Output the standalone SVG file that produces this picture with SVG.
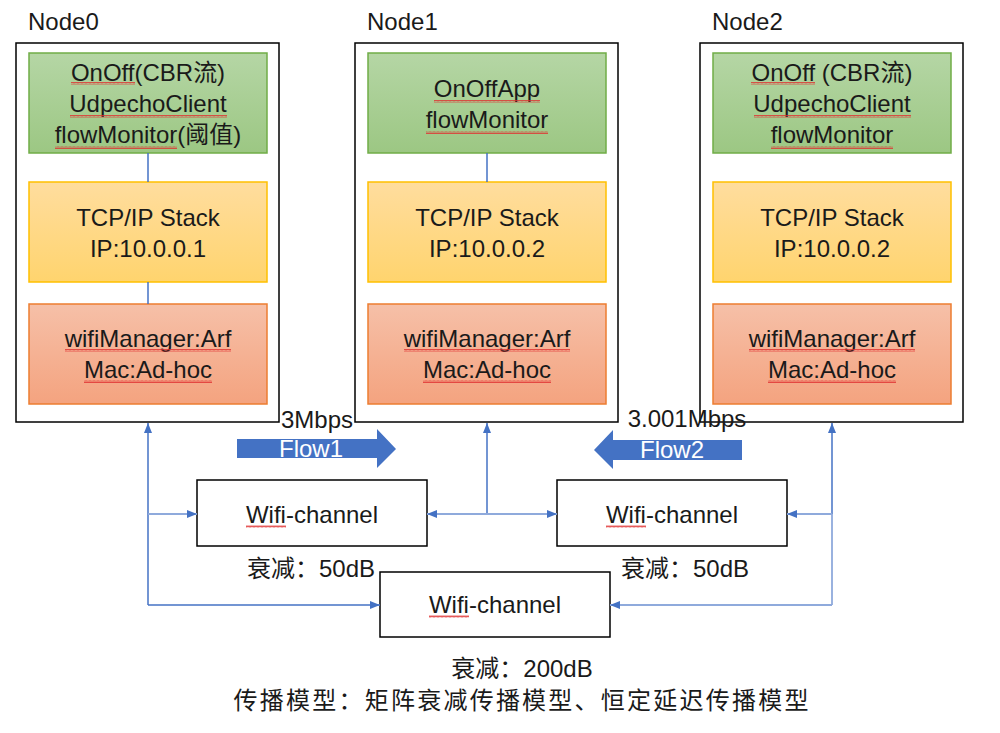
<svg xmlns="http://www.w3.org/2000/svg" width="1000" height="733" viewBox="0 0 1000 733">
<defs>
<linearGradient id="gGreen" x1="0" y1="0" x2="0" y2="1"><stop offset="0" stop-color="#B5D6A5"/><stop offset="1" stop-color="#9CC783"/></linearGradient>
<linearGradient id="gYellow" x1="0" y1="0" x2="0" y2="1"><stop offset="0" stop-color="#FFDD9E"/><stop offset="1" stop-color="#FFD46E"/></linearGradient>
<linearGradient id="gOrange" x1="0" y1="0" x2="0" y2="1"><stop offset="0" stop-color="#F6C0A8"/><stop offset="1" stop-color="#F4A37F"/></linearGradient>
<marker id="ah" markerUnits="userSpaceOnUse" markerWidth="10" markerHeight="10" viewBox="0 0 10 10" refX="10" refY="5" orient="auto"><path d="M0,1 L10,5 L0,9 Z" fill="#4472C4"/></marker>
<pattern id="wave" patternUnits="userSpaceOnUse" width="4" height="3"><path d="M0,2.5 L1,0.5 L2,2.5 L3,0.5 L4,2.5" fill="none" stroke="#E03030" stroke-width="0.8"/></pattern>
</defs>
<style>
text{font-family:"Liberation Sans","Noto Sans CJK SC",sans-serif;font-size:24px;fill:#1a1a1a;text-anchor:middle}
.lbl{text-anchor:start}
.outer{fill:#fff;stroke:#000;stroke-width:1.5}
.green{fill:url(#gGreen);stroke:#70AD47;stroke-width:1.5}
.yellow{fill:url(#gYellow);stroke:#FFC000;stroke-width:1.5}
.orange{fill:url(#gOrange);stroke:#ED7D31;stroke-width:1.5}
.ch{fill:#fff;stroke:#000;stroke-width:1.5}
.ln{fill:none;stroke:#4472C4;stroke-width:1.5}
.ln2{fill:none;stroke:#8FAADC;stroke-width:1.8}
.flow{fill:#4472C4}
.ft{fill:#fff}
.sq{fill:url(#wave)}
</style>

<g id="node0">
<text class="lbl" x="28" y="30">Node0</text>
<rect class="outer" x="16" y="43" width="263" height="379"/>
<rect class="green" x="29" y="53" width="238" height="100"/>
<text x="148" y="81">OnOff(CBR流)</text>
<text x="148" y="112">UdpechoClient</text>
<text x="148" y="143">flowMonitor(阈值)</text>
<rect class="yellow" x="29" y="182" width="238" height="100"/>
<text x="148" y="226">TCP/IP Stack</text>
<text x="148" y="257">IP:10.0.0.1</text>
<rect class="orange" x="29" y="304" width="238" height="100"/>
<text x="148" y="347">wifiManager:Arf</text>
<text x="148" y="378">Mac:Ad-hoc</text>
<rect class="sq" x="71" y="82" width="64" height="3"/>
<rect class="sq" x="70" y="115" width="157" height="3"/>
<rect class="sq" x="55" y="146" width="122" height="3"/>
<rect class="sq" x="65" y="349" width="166" height="3"/>
<rect class="sq" x="84" y="380" width="128" height="3"/>
<line class="ln" x1="148" y1="153" x2="148" y2="182"/>
<line class="ln" x1="148" y1="282" x2="148" y2="304"/>
</g>

<g id="node1">
<text class="lbl" x="367" y="30">Node1</text>
<rect class="outer" x="355" y="43" width="263" height="379"/>
<rect class="green" x="368" y="53" width="238" height="100"/>
<text x="487" y="97">OnOffApp</text>
<text x="487" y="128">flowMonitor</text>
<rect class="yellow" x="368" y="182" width="238" height="100"/>
<text x="487" y="226">TCP/IP Stack</text>
<text x="487" y="257">IP:10.0.0.2</text>
<rect class="orange" x="368" y="304" width="238" height="100"/>
<text x="487" y="347">wifiManager:Arf</text>
<text x="487" y="378">Mac:Ad-hoc</text>
<rect class="sq" x="434" y="100" width="106" height="3"/>
<rect class="sq" x="426" y="131" width="122" height="3"/>
<rect class="sq" x="404" y="349" width="166" height="3"/>
<rect class="sq" x="423" y="380" width="128" height="3"/>
<line class="ln" x1="487" y1="153" x2="487" y2="182"/>
</g>

<g id="node2">
<text class="lbl" x="712" y="30">Node2</text>
<rect class="outer" x="700" y="43" width="263" height="379"/>
<rect class="green" x="713" y="53" width="238" height="100"/>
<text x="832" y="81">OnOff (CBR流)</text>
<text x="832" y="112">UdpechoClient</text>
<text x="832" y="143">flowMonitor</text>
<rect class="yellow" x="713" y="182" width="238" height="100"/>
<text x="832" y="226">TCP/IP Stack</text>
<text x="832" y="257">IP:10.0.0.2</text>
<rect class="orange" x="713" y="304" width="238" height="100"/>
<text x="832" y="347">wifiManager:Arf</text>
<text x="832" y="378">Mac:Ad-hoc</text>
<rect class="sq" x="751" y="82" width="64" height="3"/>
<rect class="sq" x="754" y="115" width="157" height="3"/>
<rect class="sq" x="771" y="146" width="122" height="3"/>
<rect class="sq" x="749" y="349" width="166" height="3"/>
<rect class="sq" x="768" y="380" width="128" height="3"/>
</g>

<g id="channel1">
<rect class="ch" x="197" y="480" width="230" height="66"/>
<text x="312" y="523">Wifi-channel</text>
<rect class="sq" x="246" y="525" width="40" height="3"/>
<text x="311" y="577">衰减：50dB</text>
</g>

<g id="channel2">
<rect class="ch" x="557" y="480" width="230" height="66"/>
<text x="672" y="523">Wifi-channel</text>
<rect class="sq" x="606" y="525" width="40" height="3"/>
<text x="685" y="577">衰减：50dB</text>
</g>

<g id="channel3">
<rect class="ch" x="380" y="572" width="230" height="65"/>
<text x="495" y="613">Wifi-channel</text>
<rect class="sq" x="429" y="615" width="40" height="3"/>
<text x="522" y="677">衰减：200dB</text>
<text x="521" y="709" textLength="575" lengthAdjust="spacing">传播模型：矩阵衰减传播模型、恒定延迟传播模型</text>
</g>

<g id="flow1">
<path class="flow" d="M237,439 H377 V429 L396,449 L377,468 V458 H237 Z"/>
<text class="ft" x="311" y="457">Flow1</text>
<text x="317" y="428">3Mbps</text>
</g>

<g id="flow2">
<path class="flow" d="M742,440 H613 V430 L594,450 L613,469 V460 H742 Z"/>
<text class="ft" x="672" y="458">Flow2</text>
<text x="687" y="427">3.001Mbps</text>
</g>

<g id="connectors">
<path class="ln" d="M148,605 V423" marker-end="url(#ah)"/>
<path class="ln2" d="M148,514 H197" marker-end="url(#ah)"/>
<path class="ln" d="M148,605 H380" marker-end="url(#ah)"/>
<path class="ln" d="M487,514 V423" marker-end="url(#ah)"/>
<path class="ln2" d="M487,514 H427" marker-end="url(#ah)"/>
<path class="ln2" d="M487,514 H557" marker-end="url(#ah)"/>
<path class="ln" d="M832,514 V423" marker-end="url(#ah)"/>
<path class="ln2" d="M832,514 V605"/>
<path class="ln2" d="M832,514 H787" marker-end="url(#ah)"/>
<path class="ln2" d="M832,605 H610" marker-end="url(#ah)"/>
</g>
</svg>
